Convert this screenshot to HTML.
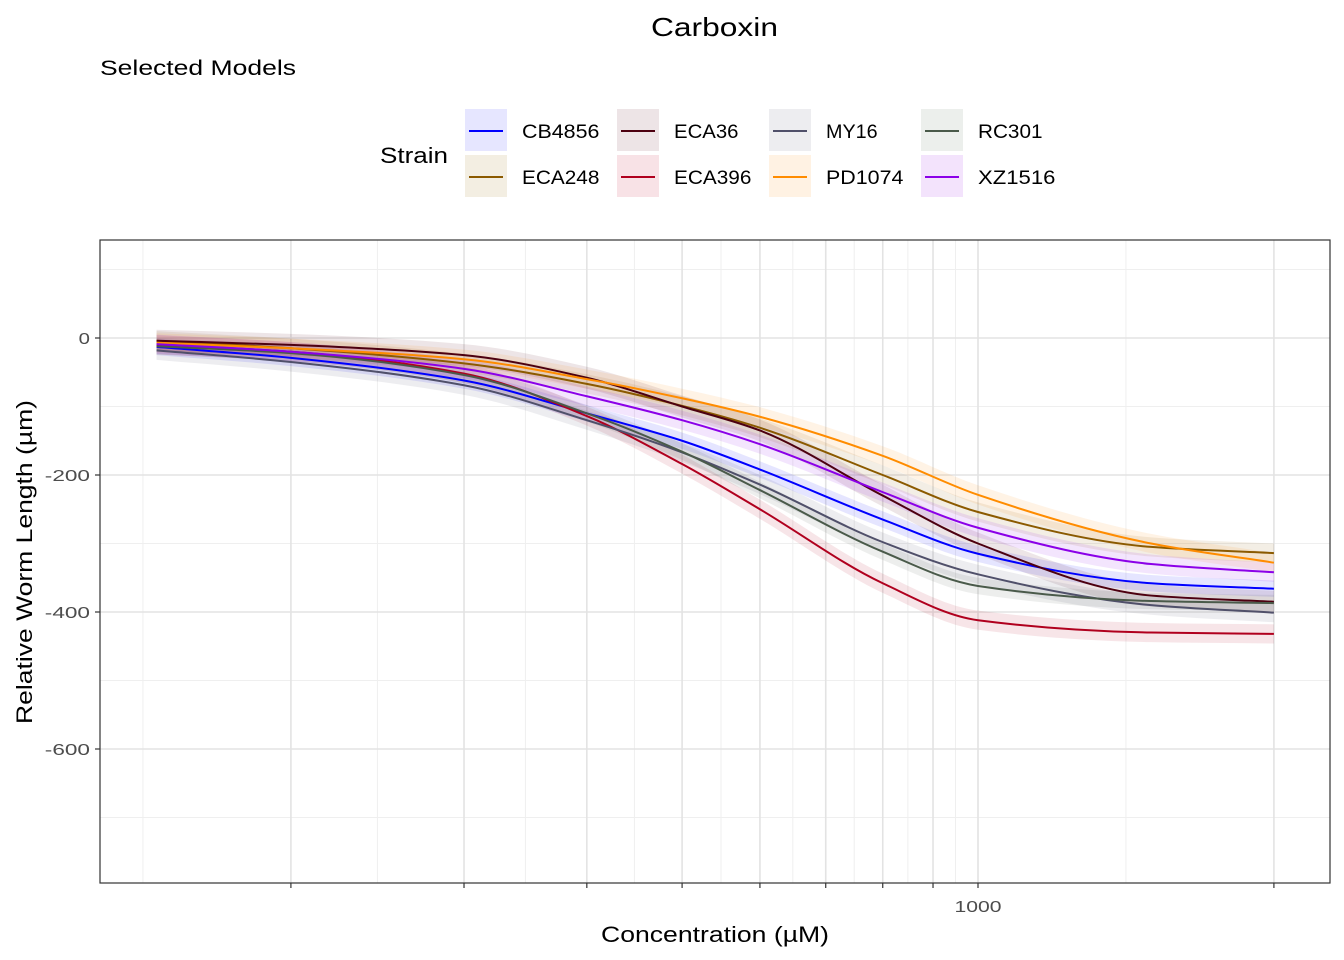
<!DOCTYPE html>
<html><head><meta charset="utf-8"><style>
body{margin:0;background:#fff;font-family:"Liberation Sans",Arial,sans-serif}
svg{display:block}
</style></head><body>
<svg id="c" width="1344" height="960">
<text x="651" y="36" font-size="26" textLength="127" lengthAdjust="spacingAndGlyphs">Carboxin</text>
<text x="100" y="75" font-size="21" textLength="196" lengthAdjust="spacingAndGlyphs">Selected Models</text>
<text x="380" y="163" font-size="22" textLength="68" lengthAdjust="spacingAndGlyphs">Strain</text>
<g id="legend"></g>
<rect x="100" y="240" width="1230" height="643" fill="#fff"/>
<g id="grid"></g>
<g id="series"></g>
<rect x="100" y="240" width="1230" height="643" fill="none" stroke="#333" stroke-width="1.2"/>
<g id="axes"></g>
<text x="601" y="942" font-size="22" textLength="228" lengthAdjust="spacingAndGlyphs">Concentration (µM)</text>
<text transform="translate(32,724) rotate(-90)" font-size="22" textLength="324" lengthAdjust="spacingAndGlyphs">Relative Worm Length (µm)</text>
</svg>
<script>
const strains=["CB4856","ECA248","ECA36","ECA396","MY16","PD1074","RC301","XZ1516"];
const colors=["#0000ff","#8b5a00","#4d0010","#b0001e","#50506a","#ff8c00","#4a5a4a","#8b00e8"];
const fills=["#e6e6ff","#f3eee2","#ede4e6","#f8e2e6","#ededf0","#fff2e3","#ecefec","#f3e3fc"];
const conc=[146,200,300,400,500,600,800,1000,1500,2000];
const vCB4856=[-13,-29,-62,-110,-150,-192,-265,-315,-358,-366];
const vECA248=[-4,-15,-37,-67,-99,-131,-200,-254,-305,-314];
const vECA36=[-4,-10,-25,-58,-100,-135,-230,-300,-376,-385];
const vECA396=[-10,-20,-52,-114,-184,-250,-358,-412,-430,-432];
const vMY16=[-18,-35,-69,-120,-167,-214,-298,-345,-390,-401];
const vPD1074=[-7,-15,-31,-60,-88,-115,-172,-229,-300,-328];
const vRC301=[-12,-22,-54,-110,-166,-222,-312,-362,-384,-387];
const vXZ1516=[-9,-20,-45,-85,-120,-155,-225,-277,-330,-342];
const ribbon=[12,14,16,14,14,14,12,14];
const series=[vCB4856,vECA248,vECA36,vECA396,vMY16,vPD1074,vRC301,vXZ1516];
const xMajor=[200,300,400,500,600,700,800,900,1000,2000];
const xLabels=["","","","","","","","","1000",""];
const yTicks=[0,-200,-400,-600];
const NS="http://www.w3.org/2000/svg";
const X=c=>978+983*Math.log10(c/1000);
const Y=v=>338-0.685*v;
function mk(t,a,p){const e=document.createElementNS(NS,t);for(const k in a)e.setAttribute(k,a[k]);p.appendChild(e);return e;}
const grid=document.getElementById('grid'),axes=document.getElementById('axes');
[100,-100,-300,-500,-700].forEach(v=>{const l=mk('line',{x1:100,x2:1330,y1:Y(v),y2:Y(v),stroke:'#efefef','stroke-width':1},grid);});
const ext=[100].concat(xMajor);
for(let i=0;i<ext.length-1;i++){const m=Math.sqrt(ext[i]*ext[i+1]);const l=mk('line',{x1:X(m),x2:X(m),y1:240,y2:883,stroke:'#efefef','stroke-width':1},grid);}
yTicks.forEach(v=>{const l=mk('line',{x1:100,x2:1330,y1:Y(v),y2:Y(v),stroke:'#e3e3e3','stroke-width':1.6},grid);
const t=mk('line',{x1:95,x2:100,y1:Y(v),y2:Y(v),stroke:'#333','stroke-width':1.2},axes);
const s=String(v);const w=s.length*11.3;
const tx=mk('text',{x:90-w,y:Y(v)+6,'font-size':16,textLength:w,lengthAdjust:'spacingAndGlyphs',fill:'#4d4d4d'},axes);tx.textContent=s;});
xMajor.forEach((c,i)=>{const l=mk('line',{x1:X(c),x2:X(c),y1:240,y2:883,stroke:'#e3e3e3','stroke-width':1.6},grid);
const t=mk('line',{x1:X(c),x2:X(c),y1:883,y2:888,stroke:'#333','stroke-width':1.2},axes);
if(xLabels[i]){const w=47;const tx=mk('text',{x:X(c)-w/2,y:912,'font-size':16,textLength:w,lengthAdjust:'spacingAndGlyphs',fill:'#4d4d4d'},axes);tx.textContent=xLabels[i];}});
function curve(pts,cont){const n=pts.length,dx=[],m=[],t=new Array(n);
for(let i=0;i<n-1;i++){dx[i]=pts[i+1][0]-pts[i][0];m[i]=(pts[i+1][1]-pts[i][1])/dx[i];}
t[0]=m[0];t[n-1]=m[n-2];for(let i=1;i<n-1;i++){t[i]=(m[i-1]*m[i]<=0)?0:(3*(dx[i-1]+dx[i]))/((2*dx[i]+dx[i-1])/m[i-1]+(dx[i]+2*dx[i-1])/m[i]);}
let d=(cont?'L':'M')+pts[0][0]+','+pts[0][1];
for(let i=0;i<n-1;i++){const h=dx[i]/3;d+=' C'+(pts[i][0]+h)+','+(pts[i][1]+t[i]*h)+' '+(pts[i+1][0]-h)+','+(pts[i+1][1]-t[i+1]*h)+' '+pts[i+1][0]+','+pts[i+1][1];}return d;}
const sg=document.getElementById('series');
series.forEach((vals,s)=>{const up=vals.map((v,i)=>[X(conc[i]),Y(v+ribbon[s])]),dn=vals.map((v,i)=>[X(conc[i]),Y(v-ribbon[s])]).reverse();
const r=mk('path',{d:curve(up,false)+' '+curve(dn,true)+' Z',fill:colors[s],'fill-opacity':0.1,stroke:'none'},sg);});
series.forEach((vals,s)=>{const p=mk('path',{d:curve(vals.map((v,i)=>[X(conc[i]),Y(v)]),false),fill:'none',stroke:colors[s],'stroke-width':2},sg);});
const lg=document.getElementById('legend');
strains.forEach((n,i)=>{const col=Math.floor(i/2),row=i%2;const x=465+col*152,y=109+row*46;
const g=mk('g',{},lg);
mk('rect',{x:x,y:y,width:42,height:42,fill:fills[i]},g);mk('line',{x1:x+4,x2:x+38,y1:y+22,y2:y+22,stroke:colors[i],'stroke-width':2},g);
const t=mk('text',{x:x+57,y:y+29,'font-size':19,textLength:n.length*12.9,lengthAdjust:'spacingAndGlyphs'},g);t.textContent=n;});
</script>
</body></html>
